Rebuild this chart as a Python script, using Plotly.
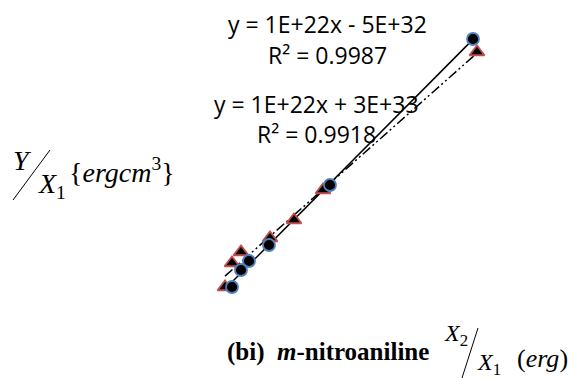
import numpy as np
import plotly.graph_objects as go

W, H = 579, 378

# X2/X1 and Y/X1 values (arbitrary scaled units)
circ_x = [2.73, 1.30, 0.69, 0.49, 0.41, 0.32]
circ_y = [2.61, 1.15, 0.55, 0.39, 0.30, 0.13]
tri_x = [2.77, 1.23, 0.94, 0.70, 0.41, 0.32, 0.25]
tri_y = [2.48, 1.10, 0.80, 0.62, 0.48, 0.37, 0.13]

eq_circ = ["y = 1E+22x - 5E+32", "R² = 0.9987"]
eq_tri = ["y = 1E+22x + 3E+33", "R² = 0.9918"]

# linear trendlines
pc = np.polyfit(circ_x, circ_y, 1)
pt = np.polyfit(tri_x, tri_y, 1)
xc = np.array([min(circ_x), max(circ_x)])
xt = np.array([min(tri_x), max(tri_x)])

fig = go.Figure()
fig.add_trace(go.Scatter(x=xt, y=np.polyval(pt, xt), mode="lines",
                         line=dict(color="black", width=1.5, dash="10px,3px,2px,3px,2px,3px")))
fig.add_trace(go.Scatter(x=xc, y=np.polyval(pc, xc), mode="lines",
                         line=dict(color="black", width=1.5)))
fig.add_trace(go.Scatter(x=tri_x, y=tri_y, mode="markers",
                         marker=dict(symbol="triangle-up", size=13, color="black",
                                     line=dict(color="#c0504d", width=1.8))))
fig.add_trace(go.Scatter(x=circ_x, y=circ_y, mode="markers",
                         marker=dict(symbol="circle", size=12, color="black",
                                     line=dict(color="#4f81bd", width=1.8))))

def px(x): return x / W
def py(y): return 1 - y / H

def note(x, y, text, size, family, anchor="center"):
    fig.add_annotation(x=px(x), y=py(y), xref="paper", yref="paper", text=text,
                       showarrow=False, xanchor=anchor, yanchor="middle",
                       font=dict(size=size, family=family, color="black"))

sans = "Open Sans"
serif = "Liberation Serif"
note(327, 24, eq_circ[0], 23, sans)
note(327, 55, eq_circ[1], 23, sans)
note(316, 104, eq_tri[0], 23, sans)
note(316, 134, eq_tri[1], 23, sans)

# y-axis label  Y / X1 {ergcm3}
note(22, 160, "<i>Y</i>", 28, serif)
note(52, 185, "<i>X</i><sub>1</sub>", 28, serif)
note(122, 170, "{<i>ergcm</i><sup>3</sup>}", 28, serif)
fig.add_shape(type="line", xref="paper", yref="paper",
              x0=px(13), y0=py(200), x1=px(50), y1=py(150), line=dict(color="black", width=1))

# x-axis label
note(328, 352, "<b>(bi)  <i>m</i>-nitroaniline</b>", 25, serif)
note(456, 335, "<i>X</i><sub>2</sub>", 24, serif)
note(489, 364, "<i>X</i><sub>1</sub>", 24, serif)
note(542, 358, "(<i>erg</i>)", 26, serif)
fig.add_shape(type="line", xref="paper", yref="paper",
              x0=px(462), y0=py(378), x1=px(478), y1=py(328), line=dict(color="black", width=1))

fig.update_xaxes(range=[-2.0, 3.79], visible=False, domain=[0, 1])
fig.update_yaxes(range=[-0.78, 3.0], visible=False, domain=[0, 1])
fig.update_layout(width=W, height=H, margin=dict(l=0, r=0, t=0, b=0),
                  showlegend=False, plot_bgcolor="white", paper_bgcolor="white")
fig.write_html("out.html", config={"displayModeBar": False},
               post_script="document.body.style.margin='0';")
